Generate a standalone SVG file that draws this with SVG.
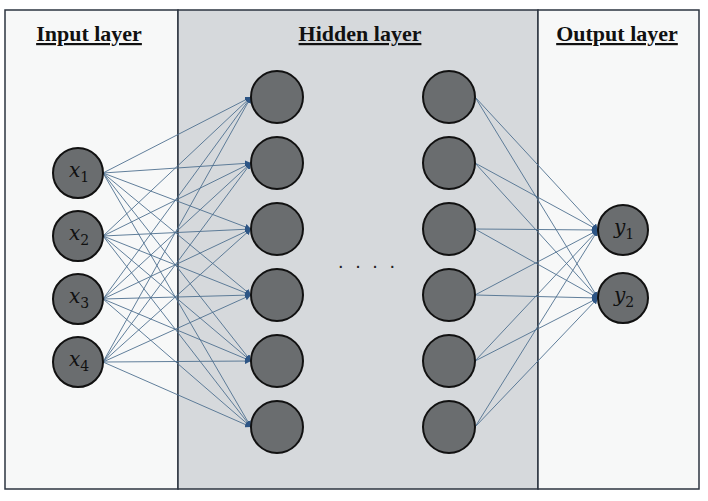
<svg xmlns="http://www.w3.org/2000/svg" width="708" height="501" viewBox="0 0 708 501">
<defs>
<marker id="ah" viewBox="0 0 10 10" refX="10" refY="5" markerWidth="6" markerHeight="6" markerUnits="userSpaceOnUse" orient="auto">
<path d="M0,0 L10,5 L0,10 z" fill="#2d5585"/>
</marker>
<style>
.panel{stroke:#2c3540;stroke-width:1.5}
.title{font-family:"Liberation Serif",serif;font-weight:bold;font-size:22px;text-decoration:underline;fill:#111;text-anchor:middle}
.node{fill:#6a6d6f;stroke:#111;stroke-width:2}
.lbl{font-family:"DejaVu Serif","Liberation Serif",serif;font-style:italic;font-size:20px;fill:#111}
.sub{font-style:normal;font-size:14px}
.c line{stroke:#4f7090;stroke-width:0.9;marker-end:url(#ah)}
</style>
</defs>
<rect x="0" y="0" width="708" height="501" fill="#ffffff"/>
<g id="panels">
<rect class="panel" x="5" y="10" width="173" height="479" fill="#f7f8f8"/>
<rect class="panel" x="178" y="10" width="360" height="479" fill="#d6d9dc"/>
<rect class="panel" x="538" y="10" width="161" height="479" fill="#f7f8f8"/>
</g>
<g id="titles">
<text class="title" x="89" y="41">Input layer</text>
<text class="title" x="360" y="41">Hidden layer</text>
<text class="title" x="617" y="41">Output layer</text>
</g>
<g id="connectors" class="c">
<line x1="103" y1="173" x2="251" y2="97"/>
<line x1="103" y1="173" x2="251" y2="163"/>
<line x1="103" y1="173" x2="251" y2="229"/>
<line x1="103" y1="173" x2="251" y2="295"/>
<line x1="103" y1="173" x2="251" y2="361"/>
<line x1="103" y1="173" x2="251" y2="427"/>
<line x1="103" y1="236" x2="251" y2="97"/>
<line x1="103" y1="236" x2="251" y2="163"/>
<line x1="103" y1="236" x2="251" y2="229"/>
<line x1="103" y1="236" x2="251" y2="295"/>
<line x1="103" y1="236" x2="251" y2="361"/>
<line x1="103" y1="236" x2="251" y2="427"/>
<line x1="103" y1="299" x2="251" y2="97"/>
<line x1="103" y1="299" x2="251" y2="163"/>
<line x1="103" y1="299" x2="251" y2="229"/>
<line x1="103" y1="299" x2="251" y2="295"/>
<line x1="103" y1="299" x2="251" y2="361"/>
<line x1="103" y1="299" x2="251" y2="427"/>
<line x1="103" y1="362" x2="251" y2="97"/>
<line x1="103" y1="362" x2="251" y2="163"/>
<line x1="103" y1="362" x2="251" y2="229"/>
<line x1="103" y1="362" x2="251" y2="295"/>
<line x1="103" y1="362" x2="251" y2="361"/>
<line x1="103" y1="362" x2="251" y2="427"/>
<line x1="475" y1="97" x2="598" y2="230"/>
<line x1="475" y1="97" x2="598" y2="298"/>
<line x1="475" y1="163" x2="598" y2="230"/>
<line x1="475" y1="163" x2="598" y2="298"/>
<line x1="475" y1="229" x2="598" y2="230"/>
<line x1="475" y1="229" x2="598" y2="298"/>
<line x1="475" y1="295" x2="598" y2="230"/>
<line x1="475" y1="295" x2="598" y2="298"/>
<line x1="475" y1="361" x2="598" y2="230"/>
<line x1="475" y1="361" x2="598" y2="298"/>
<line x1="475" y1="427" x2="598" y2="230"/>
<line x1="475" y1="427" x2="598" y2="298"/>
</g>
<g id="x1"><circle class="node" cx="78" cy="173" r="25"/><text class="lbl" x="69" y="177">x<tspan class="sub" dy="5">1</tspan></text></g>
<g id="x2"><circle class="node" cx="78" cy="236" r="25"/><text class="lbl" x="69" y="240">x<tspan class="sub" dy="5">2</tspan></text></g>
<g id="x3"><circle class="node" cx="78" cy="299" r="25"/><text class="lbl" x="69" y="303">x<tspan class="sub" dy="5">3</tspan></text></g>
<g id="x4"><circle class="node" cx="78" cy="362" r="25"/><text class="lbl" x="69" y="366">x<tspan class="sub" dy="5">4</tspan></text></g>
<g id="h1"><circle class="node" cx="277" cy="97" r="26"/></g>
<g id="h2"><circle class="node" cx="277" cy="163" r="26"/></g>
<g id="h3"><circle class="node" cx="277" cy="229" r="26"/></g>
<g id="h4"><circle class="node" cx="277" cy="295" r="26"/></g>
<g id="h5"><circle class="node" cx="277" cy="361" r="26"/></g>
<g id="h6"><circle class="node" cx="277" cy="427" r="26"/></g>
<g id="k1"><circle class="node" cx="449" cy="97" r="26"/></g>
<g id="k2"><circle class="node" cx="449" cy="163" r="26"/></g>
<g id="k3"><circle class="node" cx="449" cy="229" r="26"/></g>
<g id="k4"><circle class="node" cx="449" cy="295" r="26"/></g>
<g id="k5"><circle class="node" cx="449" cy="361" r="26"/></g>
<g id="k6"><circle class="node" cx="449" cy="427" r="26"/></g>
<g id="y1"><circle class="node" cx="623" cy="230" r="25"/><text class="lbl" x="614" y="234">y<tspan class="sub" dy="5">1</tspan></text></g>
<g id="y2"><circle class="node" cx="623" cy="298" r="25"/><text class="lbl" x="614" y="302">y<tspan class="sub" dy="5">2</tspan></text></g>
<g id="ellipsis"><text x="368" y="268" font-family="Liberation Sans, sans-serif" font-size="20" letter-spacing="3" fill="#222" text-anchor="middle">. . . .</text></g>
</svg>
